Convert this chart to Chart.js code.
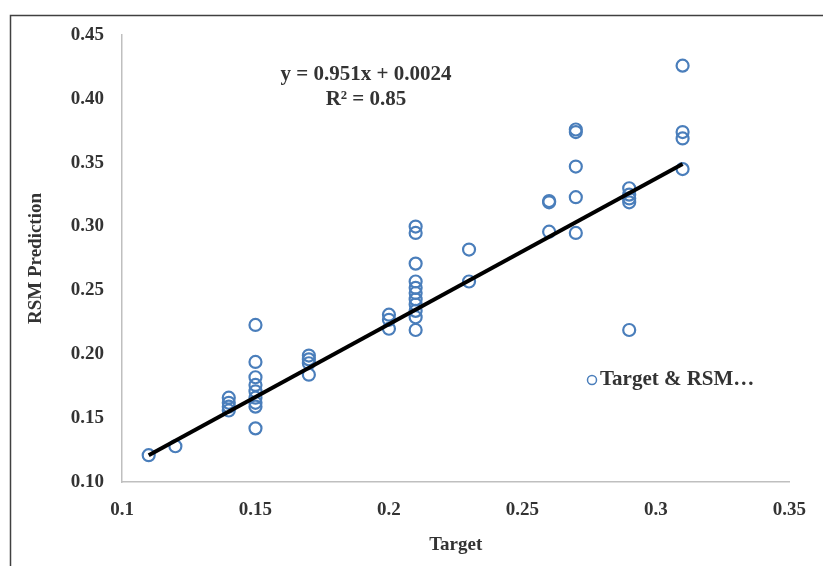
<!DOCTYPE html>
<html>
<head>
<meta charset="utf-8">
<script src="https://cdn.jsdelivr.net/npm/chart.js@4"></script>
<style>
  body { margin: 0; background: #fff; }
  canvas { display: block; }
</style>
</head>
<body>
<canvas id="chart" width="823" height="566"></canvas>
<script>
// Target values (x) and matching RSM predictions (y)
const target = [
  0.11, 0.12,
  0.14, 0.14, 0.14, 0.14,
  0.15, 0.15, 0.15, 0.15, 0.15, 0.15, 0.15, 0.15, 0.15,
  0.17, 0.17, 0.17, 0.17,
  0.20, 0.20, 0.20,
  0.21, 0.21, 0.21, 0.21, 0.21, 0.21, 0.21, 0.21, 0.21, 0.21, 0.21,
  0.23, 0.23,
  0.26, 0.26, 0.26,
  0.27, 0.27, 0.27, 0.27, 0.27,
  0.29, 0.29, 0.29, 0.29, 0.29,
  0.31, 0.31, 0.31, 0.31
];
const rsmPrediction = [
  0.121, 0.128,
  0.166, 0.162, 0.159, 0.156,
  0.223, 0.194, 0.182, 0.176, 0.171, 0.166, 0.162, 0.159, 0.142,
  0.199, 0.196, 0.193, 0.184,
  0.231, 0.227, 0.220,
  0.300, 0.295, 0.271, 0.257, 0.252, 0.248, 0.243, 0.239, 0.234, 0.229, 0.219,
  0.282, 0.257,
  0.320, 0.319, 0.296,
  0.376, 0.374, 0.347, 0.323, 0.295,
  0.330, 0.325, 0.322, 0.319, 0.219,
  0.426, 0.374, 0.369, 0.345
];

// trendline as drawn (end points)
const trendX = [0.11, 0.31];
const trendY = [0.121, 0.349];

const xTicks = [0.1, 0.15, 0.2, 0.25, 0.3, 0.35];
const yTicks = [0.10, 0.15, 0.20, 0.25, 0.30, 0.35, 0.40, 0.45];

const equationText = ['y = 0.951x + 0.0024', 'R\u00b2 = 0.85'];
const legendText = 'Target & RSM\u2026';

const BLUE = '#4a7ebb';
const TEXT = '#333333';
const FONT = '"Liberation Serif", "Times New Roman", serif';

const scatterData = target.map((x, i) => ({ x: x, y: rsmPrediction[i] }));
const trendData = trendX.map((x, i) => ({ x: x, y: trendY[i] }));

// frame, equation and the in-plot legend
const extras = {
  id: 'extras',
  afterDraw(chart) {
    const ctx = chart.ctx;
    ctx.save();
    // outer frame (only top and left show in the picture)
    ctx.strokeStyle = '#404040';
    ctx.lineWidth = 1.5;
    ctx.beginPath();
    ctx.moveTo(10.5, 566);
    ctx.lineTo(10.5, 15.5);
    ctx.lineTo(823, 15.5);
    ctx.stroke();

    // equation
    ctx.fillStyle = TEXT;
    ctx.font = 'bold 21px ' + FONT;
    ctx.textAlign = 'center';
    ctx.textBaseline = 'middle';
    ctx.fillText(equationText[0], 366, 75);
    ctx.fillText(equationText[1], 366, 100);

    // legend
    ctx.strokeStyle = BLUE;
    ctx.lineWidth = 1.5;
    ctx.beginPath();
    ctx.arc(592, 380, 4.5, 0, Math.PI * 2);
    ctx.stroke();
    ctx.textAlign = 'left';
    ctx.font = 'bold 21px ' + FONT;
    ctx.fillText(legendText, 600, 380);
    ctx.restore();
  }
};

new Chart(document.getElementById('chart'), {
  type: 'scatter',
  data: {
    datasets: [
      {
        label: legendText,
        data: scatterData,
        pointStyle: 'circle',
        pointRadius: 6,
        pointBorderWidth: 2.2,
        pointBackgroundColor: 'rgba(0,0,0,0)',
        pointBorderColor: BLUE,
        order: 2
      },
      {
        label: 'trend',
        type: 'line',
        data: trendData,
        borderColor: '#000',
        borderWidth: 4,
        pointRadius: 0,
        fill: false,
        order: 1
      }
    ]
  },
  options: {
    responsive: false,
    animation: false,
    layout: { padding: { top: 35, right: 33, left: 0, bottom: 0 } },
    plugins: {
      legend: { display: false },
      tooltip: { enabled: false }
    },
    scales: {
      x: {
        type: 'linear',
        min: xTicks[0],
        max: xTicks[xTicks.length - 1],
        afterBuildTicks: axis => { axis.ticks = xTicks.map(v => ({ value: v })); },
        afterFit: axis => { axis.height = 84; },
        grid: { display: false, drawTicks: false },
        border: { display: true, color: '#bfbfbf', width: 1.5 },
        ticks: {
          padding: 17,
          color: TEXT,
          font: { family: FONT, size: 19, weight: 'bold' },
          callback: v => String(+v.toFixed(2))
        },
        title: {
          display: true,
          text: 'Target',
          color: TEXT,
          font: { family: FONT, size: 19, weight: 'bold' },
          padding: { top: 0, bottom: 10 }
        }
      },
      y: {
        type: 'linear',
        min: yTicks[0],
        max: yTicks[yTicks.length - 1],
        afterBuildTicks: axis => { axis.ticks = yTicks.map(v => ({ value: v })); },
        afterFit: axis => { axis.width = 122; },
        grid: { display: false, drawTicks: false },
        border: { display: true, color: '#bfbfbf', width: 1.5 },
        ticks: {
          padding: 18,
          color: TEXT,
          font: { family: FONT, size: 19, weight: 'bold' },
          callback: v => v.toFixed(2)
        },
        title: {
          display: true,
          text: 'RSM Prediction',
          color: TEXT,
          font: { family: FONT, size: 19, weight: 'bold' },
          padding: { top: 25, bottom: 0 }
        }
      }
    }
  },
  plugins: [extras]
});
</script>
</body>
</html>
